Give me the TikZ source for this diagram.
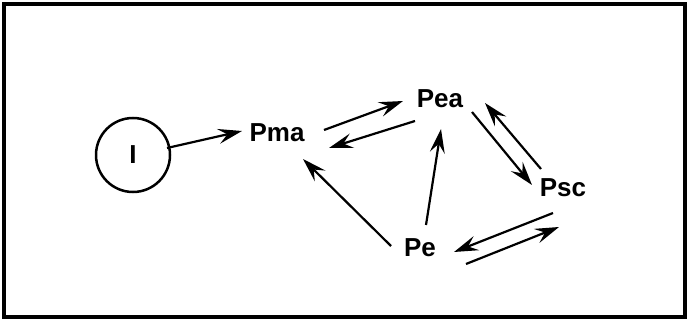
\documentclass[tikz,border=0pt]{standalone}
\usepackage{fontspec}
\setmainfont{Liberation Sans}
\usetikzlibrary{arrows.meta,calc}
\begin{document}
\begin{tikzpicture}[x=1pt,y=-1pt,
  lbl/.style={font=\fontsize{26}{26}\selectfont\bfseries, inner sep=0pt},
  arr/.style={line width=2.2pt, -{Stealth[length=24pt,width=15pt,inset=9pt]}}]
\useasboundingbox (0,0) rectangle (687,320);
\draw[line width=4pt] (4,4) rectangle (685,317);
\node[circle, draw, line width=2.5pt, minimum size=74pt, inner sep=0pt, font=\fontsize{26}{26}\selectfont\bfseries] (i) at (133,155) {I};
\node[lbl] (pma) at (277,133) {Pma};
\node[lbl] (pea) at (440,99) {Pea};
\node[lbl] (psc) at (563,188) {Psc};
\node[lbl] (pe) at (420,248) {Pe};
\draw[arr] ($(i)+(34,-7)$) -- ($(pma)+(-35,-2)$);
\draw[arr] ($(pma)+(47,-3)$) -- ($(pea)+(-37,2)$);
\draw[arr] ($(pea)+(-25,22)$) -- ($(pma)+(52,15)$);
\draw[arr] ($(pe)+(-29,-2)$) -- ($(pma)+(26,26)$);
\draw[arr] ($(pe)+(6,-23)$) -- ($(pea)+(1,30)$);
\draw[arr] ($(pea)+(32,13)$) -- ($(psc)+(-31,-3)$);
\draw[arr] ($(psc)+(-22,-19)$) -- ($(pea)+(45,4)$);
\draw[arr] ($(psc)+(-10,25)$) -- ($(pe)+(34,4)$);
\draw[arr] ($(pe)+(46,16)$) -- ($(psc)+(-4,39)$);
\end{tikzpicture}
\end{document}
